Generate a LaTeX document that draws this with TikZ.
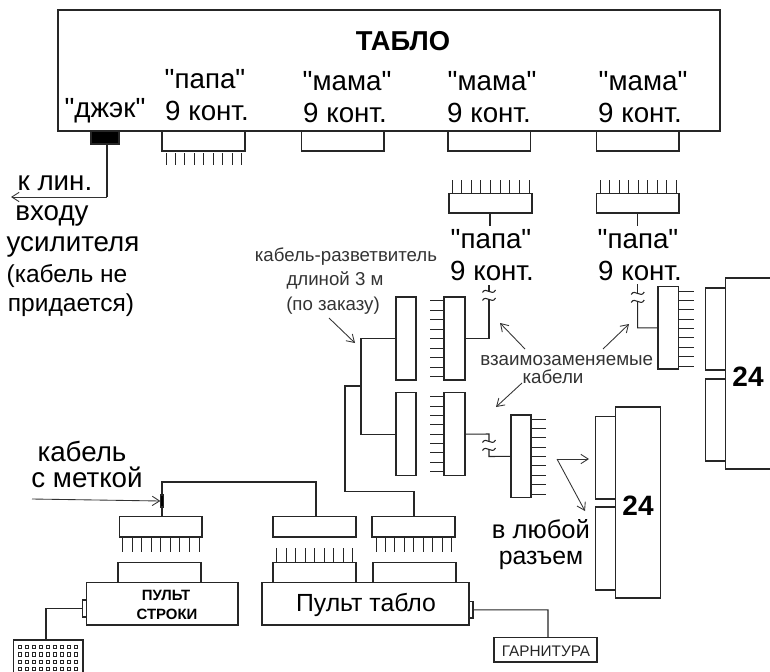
\documentclass[tikz,border=0pt]{standalone}
\usepackage{fontspec}
\setmainfont{Liberation Sans}
\newfontfamily\plainf{Liberation Sans}
\usetikzlibrary{arrows.meta}
\tikzset{
  wire/.style={line width=0.8pt,draw=black!85},
  thinw/.style={line width=0.7pt,draw=black!85},
  arr/.style={line width=0.65pt,draw=black!80,-{Straight Barb[length=5.5pt,width=7pt,line width=0.65pt]}},
  boxn/.style={draw=black!85,line width=0.85pt,fill=white,inner sep=0pt,outer sep=0pt,rectangle},
  txt/.style={inner sep=0pt,anchor=base},
  big/.style={txt,font=\plainf\fontsize{20.8}{24}\selectfont},
  sub/.style={txt,font=\fontsize{18.4}{22}\selectfont},
  mid/.style={txt,font=\fontsize{18.6}{22}\selectfont},
  small/.style={txt,text=black!80,font=\fontsize{14}{16}\selectfont},
  lab/.style={txt,text=black!80,font=\fontsize{14.1}{16}\selectfont},
  num/.style={txt,font=\fontsize{21}{24}\selectfont\bfseries},
  tiny/.style={txt,font=\fontsize{11.2}{13}\selectfont\bfseries},
}
\newcommand{\bx}[5]{\node[boxn,minimum width={(#4-#2)*0.75pt},minimum height={(#5-#3)*0.75pt}] (#1) at ({(#2+#4)/2},{(#3+#5)/2}) {};}
\newcommand{\vpins}[4]{\foreach \ii in {0,...,8}{\pgfmathsetmacro{\xx}{#1+\ii*(#2-#1)/8}\draw[thinw] (\xx,#3) -- (\xx,#4);}}
\newcommand{\hpins}[4]{\foreach \ii in {0,...,8}{\pgfmathsetmacro{\yy}{#3+\ii*(#4-#3)/8}\draw[thinw] (#1,\yy) -- (#2,\yy);}}
\newcommand{\wavy}[2]{\draw[wire] ({#1-6.5},{#2+1.5}) .. controls ({#1-3},{#2-5}) and ({#1+3},{#2+6}) .. ({#1+6.5},{#2-1});
\draw[wire] ({#1-6.5},{#2+9.5}) .. controls ({#1-3},{#2+3}) and ({#1+3},{#2+14}) .. ({#1+6.5},{#2+7});}
\begin{document}
\begin{tikzpicture}[x=0.75pt,y=-0.75pt]
\clip (0,0) rectangle (770,671);
\fill[white] (0,0) rectangle (770,671);
% TABLO
\bx{papaS}{162}{131}{245}{151}
\bx{mamaA}{301.5}{131}{384}{151}
\bx{mamaB}{448}{131}{530.7}{151}
\bx{mamaC}{596.7}{131}{679}{151}
\bx{tablo}{58}{10}{720}{131}
\node[boxn,fill=black,minimum width=21pt,minimum height=9.7pt] (jack) at (105,137.5) {};
\node[txt,font=\fontsize{20.5}{24}\selectfont\bfseries] (ttl) at (403,50) {ТАБЛО};
\node[big] (t1) at (205,88) {"папа"};
\node[big] (t2) at (207,120.5) {9 конт.};
\node[big] (t3) at (105,117) {"джэк"};
\node[big] (t4) at (347,90.5) {"мама"};
\node[big] (t5) at (345,122.5) {9 конт.};
\node[big] (t6) at (492,90.5) {"мама"};
\node[big] (t7) at (489,122.5) {9 конт.};
\node[big] (t8) at (643,90.5) {"мама"};
\node[big] (t9) at (640,122.5) {9 конт.};
\vpins{166}{241.5}{153}{165}
% jack cable
\coordinate (jk) at (107,197);
\coordinate (jkEnd) at (11,197);
\draw[wire] (107,144) -- (jk);
\draw[arr] (jk) -- (jkEnd);
\node[big] (l1) at (55,190.7) {к лин.};
\node[big] (l2) at (52,220) {входу};
\node[big] (l3) at (73,251) {усилителя};
\node[sub] (l4) at (67,282.7) {(кабель не};
\node[sub] (l5) at (71,311.7) {придается)};
% top-right plugs
\bx{plugA}{449}{193.7}{532}{213}
\bx{plugB}{596.7}{193.7}{679}{213}
\vpins{452}{529}{180}{193}
\vpins{600}{676}{180}{193}
\coordinate (stA) at (490,226);
\coordinate (stB) at (637.7,226);
\draw[wire] (stA |- plugA.south) -- (stA);
\draw[wire] (stB |- plugB.south) -- (stB);
\node[big] (p1) at (491,248) {"папа"};
\node[big] (p2) at (492,280) {9 конт.};
\node[big] (p3) at (638,248) {"папа"};
\node[big] (p4) at (640,280) {9 конт.};
% splitter
\node[small] (s1) at (346,261.7) {кабель-разветвитель};
\node[small] (s2) at (335,285.5) {длиной 3 м};
\node[small] (s3) at (333,310) {(по заказу)};
\bx{spA}{396}{297}{416}{380}
\bx{spB}{396}{392.7}{416}{475.7}
\bx{cA}{444}{297}{465}{380}
\bx{cB}{444}{392.7}{465}{475.7}
\hpins{430}{444}{300.7}{376.7}
\hpins{430}{444}{396.7}{471.7}
\coordinate (tr) at (361,338.5);
\coordinate (trB) at (361,386);
\coordinate (trC) at (345,386);
\coordinate (trD) at (345,491.7);
\coordinate (trE) at (414,491.7);
\draw[wire] (spA.west) -- (tr) -- (tr |- spB.west) -- (spB.west);
\draw[wire] (trB) -- (trC) -- (trD) -- (trE) -- (414,516.7);
\draw[arr] (329,318) -- (355,343);
% cable A
\draw[wire] (cA.east) -- (489,338.5) -- (489,299);
\wavy{489}{291}
\draw[wire] (489,285) -- (489,291);
% right cable
\bx{cC}{658}{286.7}{678.7}{369}
\hpins{679}{693.5}{291}{366}
\draw[wire] (cC.west) -- (637.7,327.8) -- (637.7,301);
\wavy{637.7}{293}
\draw[wire] (637.7,284) -- (637.7,293);
% cable B
\bx{cD}{511}{415}{531}{497.7}
\hpins{531}{545.5}{419}{494}
\draw[wire] (cB.east) -- (489,434) -- (489,441);
\wavy{489}{441}
\draw[wire] (489,449) -- (489,456.5) -- (cD.west);
% interchangeable labels
\node[lab] (v1) at (566.7,365.7) {взаимозаменяемые};
\node[lab] (v2) at (553,383) {кабели};
\draw[arr] (525,349) -- (500,323);
\draw[arr] (603,349) -- (629,324);
\draw[arr] (522,383) -- (496,407);
% big 24 lower
\bx{kA}{595.7}{416.7}{615.7}{499}
\bx{kB}{595.7}{507}{615.7}{590}
\bx{kC}{615.7}{407}{660.7}{598}
\node[num] (n1) at (638,515) {24};
% big 24 upper
\bx{kD}{705.7}{288}{725.7}{370}
\bx{kE}{705.7}{379}{725.7}{461}
\bx{kF}{725.7}{278}{790}{469}
\node[num] (n2) at (748,386.7) {24};
\coordinate (fork) at (557,459);
\draw[arr] (fork) -- (589,459);
\draw[arr] (fork) -- (585,511);
\node[txt,font=\fontsize{19.2}{22}\selectfont] (a1) at (541,538) {в любой};
\node[mid] (a2) at (541,564) {разъем};
% label cable
\node[big] (c1) at (82,461.7) {кабель};
\node[big] (c2) at (87,487.7) {с меткой};
\bx{plC}{119.7}{516.7}{202}{537}
\bx{plD}{273}{516.7}{356}{537}
\bx{plE}{372}{516.7}{455}{537}
\draw[wire] (162,516.7) -- (162,482) -- (316,482) -- (316,516.7);
\coordinate (lblS) at (32,499);
\node[boxn,fill=black,minimum width=2.5pt,minimum height=9pt] (mark) at (162,501) {};
\draw[arr] (lblS) -- (mark.west);
\vpins{122.7}{199}{538}{552}
\vpins{276.7}{352.7}{548}{562.7}
\vpins{376}{451.7}{538}{552}
\bx{soC}{118}{562.7}{201}{582.7}
\bx{soD}{273}{562.7}{356}{582.7}
\bx{soE}{373}{562.7}{456}{582.7}
% consoles
\bx{pS}{86.7}{582.7}{238}{625}
\node[tiny] (ps1) at (166,600) {ПУЛЬТ};
\node[tiny] (ps2) at (167,619) {СТРОКИ};
\bx{pT}{262}{582.7}{469}{625}
\node[mid] (pt1) at (366,611) {Пульт табло};
\bx{jS}{82.7}{600}{86.7}{617}
\bx{jT}{469}{601.7}{473}{618}
\bx{kb}{13.3}{640}{83}{690}
\draw[wire] (jS.west) -- (46,608.5) -- (46,640);
\foreach \r in {0,...,3}{\foreach \c in {0,...,8}{
  \pgfmathsetmacro{\xa}{18+\c*7}\pgfmathsetmacro{\ya}{645.5+\r*7.2}
  \draw[line width=0.6pt,draw=black!85] (\xa,\ya) rectangle ++(3.2,3.2);}}
\bx{gar}{494}{637.7}{597}{662}
\node[txt,text=black!85,font=\fontsize{11.5}{13}\selectfont] (g1) at (546,656.7) {ГАРНИТУРА};
\draw[wire] (jT.east) -- (548,609.8) -- (548,637.7);
\end{tikzpicture}
\end{document}
